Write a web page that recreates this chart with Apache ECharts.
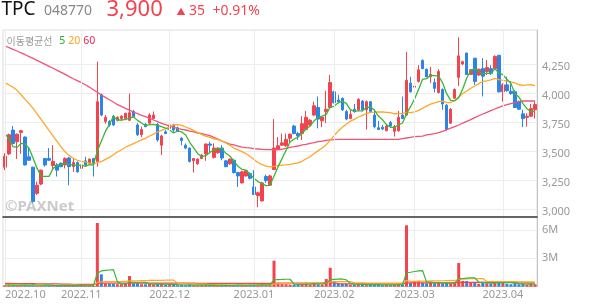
<!DOCTYPE html>
<html><head><meta charset="utf-8">
<script src="https://cdn.jsdelivr.net/npm/echarts@6/dist/echarts.min.js"></script>
<style>html,body{margin:0;padding:0;background:#fff}#c{width:594px;height:304px}</style>
</head><body><div id="c"></div>
<script>
// Trading days per month (categories)
const monthDays = [
  ['2022.10', [4,5,6,7,11,12,13,14,17,18,19,20,21,24,25,26,27,28,31]],
  ['2022.11', [1,2,3,4,7,8,9,10,11,14,15,16,17,18,21,22,23,24,25,28,29,30]],
  ['2022.12', [1,2,5,6,7,8,9,12,13,14,15,16,19,20,21,22,23,26,27,28,29]],
  ['2023.01', [2,3,4,5,6,9,10,11,12,13,16,17,18,19,20,25,26,27,30,31]],
  ['2023.02', [1,2,3,6,7,8,9,10,13,14,15,16,17,20,21,22,23,24,27,28]],
  ['2023.03', [2,3,6,7,8,9,10,13,14,15,16,17,20,21,22,23,24,27,28,29,30,31]],
  ['2023.04', [3,4,5,6,7,10,11,12,13]]
];
const openP = [3360,3475,3680,3580,3660,3620,3450,3360,3135,3215,
3435,3435,3375,3380,3395,3380,3440,3365,3400,3350,
3415,3395,3435,3410,3985,3755,3755,3800,3765,3780,
3780,3765,3840,3725,3640,3730,3740,3780,3730,3550,
3665,3695,3725,3700,3610,3550,3525,3415,3390,3435,
3475,3560,3445,3485,3525,3415,3390,3420,3315,3225,
3285,3305,3190,3115,3070,3280,3205,3340,3515,3550,
3545,3610,3715,3650,3650,3685,3725,3810,3875,3760,
3840,3875,4010,3940,3955,3840,3780,3860,3855,3930,
3855,3925,3810,3700,3705,3675,3745,3670,3675,3810,
3810,4085,4050,4100,4280,4205,4140,4090,4005,4030,
3895,3740,3955,4135,4250,4345,4160,4300,4155,4210,
4185,4210,4210,4325,4010,4070,4015,4010,3925,3820,
3790,3800,3855];
const closeP = [3455,3640,3565,3645,3675,3380,3420,3065,3205,3335,
3380,3420,3410,3335,3365,3435,3365,3400,3320,3380,
3380,3430,3395,3925,3810,3790,3725,3725,3790,3800,
3825,3830,3795,3640,3685,3710,3810,3810,3595,3630,
3650,3725,3680,3670,3590,3525,3410,3435,3430,3465,
3560,3550,3525,3525,3440,3365,3430,3315,3285,3320,
3330,3265,3125,3140,3225,3245,3285,3525,3545,3570,
3600,3645,3650,3630,3735,3790,3765,3890,3775,3790,
3860,4090,3915,3925,3855,3775,3815,3840,3945,3855,
3925,3840,3710,3685,3690,3715,3715,3710,3790,3780,
4110,4010,4060,4200,4210,4140,4160,4040,4185,3905,
3685,3860,4030,4320,4270,4160,4200,4100,4205,4145,
4220,4170,4315,4010,4070,4020,3995,3875,3860,3780,
3800,3865,3900];
const lowP = [3335,3465,3560,3430,3475,3375,3415,3050,3120,3205,
3365,3415,3335,3280,3360,3350,3205,3320,3315,3305,
3365,3390,3280,3365,3800,3735,3710,3715,3755,3760,
3765,3760,3790,3630,3620,3705,3735,3775,3580,3465,
3645,3680,3665,3665,3550,3515,3400,3315,3380,3430,
3415,3480,3435,3475,3420,3360,3380,3305,3190,3220,
3280,3255,3120,3015,3065,3225,3200,3335,3510,3545,
3535,3570,3645,3595,3595,3680,3710,3800,3695,3705,
3740,3870,3910,3910,3845,3765,3775,3830,3845,3840,
3685,3830,3695,3680,3680,3670,3710,3625,3665,3775,
3800,4005,4040,4090,4205,4135,4085,4005,3995,3855,
3675,3735,3950,4060,4240,4155,4155,4070,4145,3970,
4155,4155,4205,4005,3925,4010,3985,3870,3855,3705,
3710,3795,3780];
const highP = [3480,3650,3715,3650,3680,3625,3530,3365,3235,3340,
3440,3525,3550,3395,3400,3445,3450,3435,3410,3420,
3450,3435,3440,4270,3995,3810,3765,3810,3800,3810,
3830,3995,3855,3740,3710,3740,3825,3840,3740,3640,
3680,3760,3735,3710,3620,3565,3530,3440,3435,3475,
3565,3580,3565,3530,3550,3420,3435,3430,3320,3330,
3335,3315,3335,3150,3235,3295,3295,3775,3620,3650,
3650,3650,3725,3665,3800,3845,3775,3925,3970,3800,
4020,4155,4020,3985,3960,3855,3855,3905,3955,3940,
3935,3930,3855,3760,3725,3725,3760,3725,3845,3970,
4355,4140,4110,4240,4290,4210,4225,4125,4205,4040,
3905,3870,4040,4480,4280,4345,4205,4300,4210,4300,
4285,4240,4325,4325,4085,4140,4100,4025,3935,3855,
3825,3905,3925];
const ma5 = [3646,3609,3537,3531,3566,3560,3523,3437,3350,3282,
3282,3282,3350,3376,3382,3394,3382,3379,3376,3379,
3368,3382,3379,3500,3586,3669,3730,3796,3767,3767,
3773,3781,3796,3764,3741,3718,3727,3730,3721,3710,
3698,3681,3655,3672,3664,3638,3575,3526,3477,3451,
3460,3488,3506,3523,3520,3480,3457,3414,3368,3342,
3336,3302,3264,3236,3218,3201,3204,3284,3365,3434,
3506,3577,3603,3621,3652,3690,3715,3761,3790,3801,
3816,3879,3885,3917,3928,3911,3856,3842,3845,3845,
3876,3879,3853,3801,3770,3727,3704,3704,3724,3741,
3822,3882,3948,4031,4118,4123,4152,4149,4146,4086,
3994,3937,3934,3960,4034,4129,4195,4210,4187,4161,
4172,4166,4210,4172,4158,4118,4083,3994,3965,3908,
3865,3839,3842];
const ma20 = [4089,4069,4049,4023,3985,3945,3908,3868,3819,3773,
3724,3675,3629,3580,3534,3491,3460,3437,3420,3410,
3406,3396,3387,3401,3408,3428,3445,3468,3491,3511,
3532,3549,3563,3580,3595,3609,3629,3646,3664,3678,
3692,3710,3724,3727,3721,3707,3692,3677,3659,3642,
3629,3618,3604,3599,3586,3569,3550,3525,3510,3494,
3478,3455,3427,3401,3383,3369,3363,3367,3373,3378,
3380,3385,3392,3397,3411,3433,3450,3478,3503,3526,
3553,3594,3633,3673,3704,3730,3757,3773,3793,3807,
3823,3833,3835,3838,3836,3833,3830,3821,3822,3822,
3834,3830,3837,3850,3868,3887,3904,3914,3926,3929,
3917,3918,3934,3966,3995,4017,4041,4060,4081,4099,
4105,4113,4126,4116,4109,4103,4095,4087,4071,4065,
4070,4071,4064];
const ma60 = [4405,4391,4376,4362,4345,4330,4313,4299,4281,4264,
4247,4230,4213,4195,4178,4161,4141,4123,4106,4089,
4071,4051,4028,4006,3983,3962,3942,3922,3899,3885,
3868,3853,3836,3822,3807,3796,3781,3767,3753,3738,
3727,3715,3704,3695,3687,3681,3672,3664,3655,3649,
3641,3632,3618,3603,3586,3572,3560,3552,3543,3534,
3529,3526,3520,3517,3514,3511,3511,3509,3509,3517,
3523,3532,3537,3543,3552,3557,3566,3572,3580,3586,
3592,3595,3598,3600,3600,3600,3600,3600,3600,3600,
3600,3600,3600,3600,3600,3600,3600,3600,3600,3606,
3612,3618,3623,3626,3629,3638,3644,3649,3658,3669,
3684,3698,3710,3724,3741,3756,3770,3787,3804,3819,
3833,3848,3862,3876,3888,3899,3908,3916,3925,3931,
3931,3931,3931];
// volume in millions of shares
const volM = [0.15,0.22,0.18,0.12,0.14,0.20,0.12,0.25,0.16,0.14,
0.10,0.09,0.12,0.10,0.08,0.10,0.13,0.09,0.10,0.08,
0.07,0.09,0.10,6.75,1.30,0.35,0.32,0.30,0.25,0.25,
0.30,1.12,0.30,0.35,0.25,0.25,0.30,0.22,0.30,0.28,
0.20,0.18,0.20,0.15,0.18,0.15,0.20,0.14,0.12,0.15,
0.18,0.12,0.15,0.12,0.14,0.16,0.12,0.15,0.18,0.14,
0.12,0.15,0.18,0.20,0.25,0.15,0.18,2.75,0.40,0.30,
0.25,0.20,0.20,0.20,0.38,0.30,0.20,0.38,0.25,0.20,
0.80,2.00,0.60,0.35,0.30,0.30,0.20,0.20,0.25,0.20,
0.15,0.18,0.25,0.20,0.15,0.18,0.15,0.20,0.25,0.25,
6.50,0.40,0.60,0.60,0.40,0.35,0.45,0.35,0.45,0.35,
0.40,0.30,0.50,2.50,0.60,0.60,0.45,0.50,0.30,0.40,
0.35,0.30,0.45,0.60,0.45,0.30,0.25,0.35,0.25,0.30,
0.20,0.30,0.25];
const volMa5 = [0.17,0.17,0.16,0.16,0.16,0.17,0.15,0.17,0.17,0.17,
0.15,0.15,0.12,0.11,0.10,0.10,0.11,0.10,0.10,0.10,
0.09,0.09,0.09,1.42,1.66,1.72,1.76,1.80,0.50,0.29,
0.28,0.44,0.44,0.46,0.46,0.45,0.29,0.27,0.26,0.27,
0.26,0.24,0.23,0.20,0.18,0.17,0.18,0.16,0.16,0.15,
0.16,0.14,0.14,0.14,0.14,0.14,0.14,0.14,0.15,0.15,
0.14,0.15,0.15,0.16,0.18,0.19,0.19,0.71,0.75,0.76,
0.78,0.78,0.27,0.23,0.25,0.26,0.26,0.29,0.30,0.27,
0.37,0.73,0.77,0.79,0.81,0.71,0.35,0.27,0.25,0.23,
0.20,0.20,0.21,0.20,0.19,0.19,0.19,0.18,0.19,0.21,
1.47,1.52,1.60,1.67,1.70,0.47,0.48,0.43,0.40,0.39,
0.40,0.37,0.40,0.81,0.86,0.90,0.93,0.93,0.49,0.45,
0.40,0.37,0.36,0.42,0.43,0.42,0.41,0.39,0.32,0.29,
0.27,0.28,0.26];
const volMa20 = [0.15,0.15,0.15,0.15,0.14,0.14,0.14,0.14,0.14,0.14,
0.14,0.14,0.14,0.14,0.13,0.13,0.13,0.13,0.13,0.13,
0.13,0.12,0.12,0.45,0.51,0.52,0.53,0.53,0.53,0.54,
0.55,0.60,0.61,0.62,0.63,0.64,0.65,0.65,0.66,0.67,
0.68,0.68,0.69,0.36,0.30,0.29,0.29,0.28,0.27,0.27,
0.26,0.21,0.20,0.19,0.19,0.18,0.17,0.17,0.16,0.16,
0.15,0.15,0.15,0.15,0.16,0.16,0.16,0.29,0.30,0.31,
0.31,0.31,0.32,0.32,0.33,0.34,0.34,0.36,0.36,0.36,
0.40,0.49,0.51,0.52,0.52,0.53,0.53,0.40,0.39,0.39,
0.38,0.38,0.38,0.38,0.37,0.37,0.36,0.36,0.36,0.36,
0.64,0.56,0.56,0.58,0.58,0.58,0.60,0.60,0.61,0.62,
0.63,0.64,0.65,0.77,0.79,0.81,0.83,0.84,0.84,0.85,
0.54,0.54,0.53,0.53,0.53,0.53,0.52,0.52,0.51,0.51,
0.50,0.50,0.49];
const volMa60 = [0.34,0.34,0.33,0.33,0.32,0.32,0.31,0.31,0.30,0.30,
0.29,0.29,0.28,0.28,0.27,0.26,0.26,0.25,0.25,0.24,
0.24,0.23,0.23,0.34,0.36,0.36,0.36,0.36,0.36,0.36,
0.36,0.37,0.37,0.37,0.37,0.37,0.37,0.37,0.37,0.37,
0.37,0.37,0.37,0.36,0.36,0.36,0.36,0.36,0.35,0.35,
0.35,0.35,0.35,0.35,0.35,0.34,0.34,0.34,0.34,0.34,
0.34,0.34,0.34,0.34,0.34,0.34,0.34,0.38,0.38,0.38,
0.38,0.38,0.38,0.38,0.38,0.38,0.38,0.38,0.38,0.39,
0.42,0.42,0.42,0.31,0.29,0.28,0.28,0.28,0.28,0.28,
0.28,0.28,0.28,0.28,0.28,0.28,0.28,0.28,0.28,0.28,
0.39,0.39,0.40,0.40,0.40,0.40,0.40,0.40,0.40,0.40,
0.40,0.40,0.40,0.44,0.44,0.44,0.44,0.44,0.44,0.44,
0.44,0.44,0.44,0.44,0.44,0.44,0.44,0.40,0.40,0.40,
0.40,0.40,0.40];
const priceTicks = [3000,3250,3500,3750,4000,4250];
const volTicks = [3,6];

const dates = [];
monthDays.forEach(([m, days]) => days.forEach(d => dates.push(m + '.' + String(d).padStart(2, '0'))));
const isMonthStart = (i) => i === 0 || dates[i].slice(0, 7) !== dates[i - 1].slice(0, 7);

const UP = '#f4434d', DOWN = '#2b84e8';
const C5 = '#37b837', C20 = '#ffa726', C60 = '#f25374';
const FONT = "'Noto Sans', 'Noto Sans CJK KR', sans-serif";
const GRID_LINE = '#ededed';

const candles = openP.map((o, i) => [o, closeP[i], lowP[i], highP[i]]);
const volData = volM.map((v, i) => ({ value: v, itemStyle: { color: closeP[i] >= openP[i] ? UP : DOWN } }));
const comma = v => String(v).replace(/\B(?=(\d{3})+(?!\d))/g, ',');

const splitX = { show: true, interval: (i) => isMonthStart(i), alignWithLabel: true, lineStyle: { color: GRID_LINE, width: 1 } };

const chart = echarts.init(document.getElementById('c'), null, { renderer: 'canvas' });
chart.setOption({
  animation: false,
  backgroundColor: '#fff',
  textStyle: { fontFamily: FONT },
  grid: [
    { left: 3, right: 57, top: 30, height: 187, show: true, borderColor: '#dcdcdc', borderWidth: 1 },
    { left: 3, right: 57, top: 217, height: 69.6, show: true, borderColor: '#dcdcdc', borderWidth: 1 }
  ],
  xAxis: [
    { type: 'category', gridIndex: 0, data: dates, boundaryGap: true,
      axisLine: { show: true, lineStyle: { color: '#3a3a3a', width: 1.5 } },
      axisTick: { show: false }, axisLabel: { show: false }, splitLine: splitX, z: 5 },
    { type: 'category', gridIndex: 1, data: dates, boundaryGap: true,
      axisLine: { show: true, lineStyle: { color: '#bdbdbd' } },
      axisTick: { show: false },
      axisLabel: { interval: (i) => isMonthStart(i), formatter: v => v.slice(0, 7), color: '#999', fontSize: 11, margin: 3, fontFamily: FONT, alignMinLabel: 'left' },
      splitLine: splitX }
  ],
  yAxis: [
    { type: 'value', gridIndex: 0, position: 'right', min: 2931, max: 4543, scale: true,
      axisLine: { show: true, lineStyle: { color: '#c4c4c4' } },
      axisTick: { show: false, customValues: priceTicks },
      axisLabel: { customValues: priceTicks, formatter: comma, color: '#999', fontSize: 11, margin: 5, verticalAlign: 'top', lineHeight: 5, fontFamily: FONT },
      splitLine: { show: true, lineStyle: { color: GRID_LINE } } },
    { type: 'value', gridIndex: 1, position: 'right', min: 0, max: 7.38,
      axisLine: { show: true, lineStyle: { color: '#c4c4c4' } },
      axisTick: { show: false, customValues: volTicks },
      axisLabel: { customValues: volTicks, formatter: v => v + 'M', color: '#999', fontSize: 11, margin: 5, fontFamily: FONT },
      splitLine: { show: true, lineStyle: { color: GRID_LINE } } }
  ],
  series: [
    { type: 'candlestick', xAxisIndex: 0, yAxisIndex: 0, data: candles, barWidth: 3,
      itemStyle: { color: UP, color0: DOWN, borderColor: UP, borderColor0: DOWN, borderWidth: 1 } },
    { type: 'line', xAxisIndex: 0, yAxisIndex: 0, data: ma60, symbol: 'none', lineStyle: { color: C60, width: 1.3 }, z: 3 },
    { type: 'line', xAxisIndex: 0, yAxisIndex: 0, data: ma20, symbol: 'none', lineStyle: { color: C20, width: 1.3 }, z: 3 },
    { type: 'line', xAxisIndex: 0, yAxisIndex: 0, data: ma5, symbol: 'none', lineStyle: { color: C5, width: 1.3 }, z: 3 },
    { type: 'bar', xAxisIndex: 1, yAxisIndex: 1, data: volData, barWidth: 3 },
    { type: 'line', xAxisIndex: 1, yAxisIndex: 1, data: volMa60, symbol: 'none', lineStyle: { color: '#f04848', width: 1.2 }, z: 3 },
    { type: 'line', xAxisIndex: 1, yAxisIndex: 1, data: volMa20, symbol: 'none', lineStyle: { color: C20, width: 1.2 }, z: 3 },
    { type: 'line', xAxisIndex: 1, yAxisIndex: 1, data: volMa5, symbol: 'none', lineStyle: { color: C5, width: 1.2 }, z: 3 }
  ],
  graphic: [
    { type: 'text', x: 1.5, y: 10, z: 100, style: { text: 'TPC', font: "19px " + FONT, fill: '#111', verticalAlign: 'middle' } },
    { type: 'text', x: 44, y: 11.5, z: 100, style: { text: '048770', font: "14px " + FONT, fill: '#888', verticalAlign: 'middle' } },
    { type: 'text', x: 106.5, y: 10, z: 100, style: { text: '3,900', font: "22px " + FONT, fill: UP, verticalAlign: 'middle' } },
    { type: 'text', x: 176.5, y: 12, z: 100, style: { text: '▲', font: "9px " + FONT, fill: UP, verticalAlign: 'middle' } },
    { type: 'text', x: 189, y: 11.5, z: 100, style: { text: '35', font: "14px " + FONT, fill: UP, verticalAlign: 'middle' } },
    { type: 'text', x: 212.5, y: 11.5, z: 100, style: { text: '+0.91%', font: "14px " + FONT, fill: UP, verticalAlign: 'middle' } },
    { type: 'text', x: 6.5, y: 41, z: 100, style: { text: '이동평균선', font: "10px 'Noto Sans CJK KR', sans-serif", fill: '#999', verticalAlign: 'middle' } },
    { type: 'text', x: 59.3, y: 41, z: 100, style: { text: '5', font: "10.5px " + FONT, fill: '#22b022', verticalAlign: 'middle' } },
    { type: 'text', x: 68.3, y: 41, z: 100, style: { text: '20', font: "10.5px " + FONT, fill: '#ffa31a', verticalAlign: 'middle' } },
    { type: 'text', x: 83.3, y: 41, z: 100, style: { text: '60', font: "10.5px " + FONT, fill: '#ee2457', verticalAlign: 'middle' } },
    { type: 'text', x: 5, y: 206.5, z: 100, style: { text: '©PAXNet', font: "bold 15px " + FONT, fill: 'rgba(160,160,160,0.55)', verticalAlign: 'middle' } }
  ]
});
</script></body></html>
